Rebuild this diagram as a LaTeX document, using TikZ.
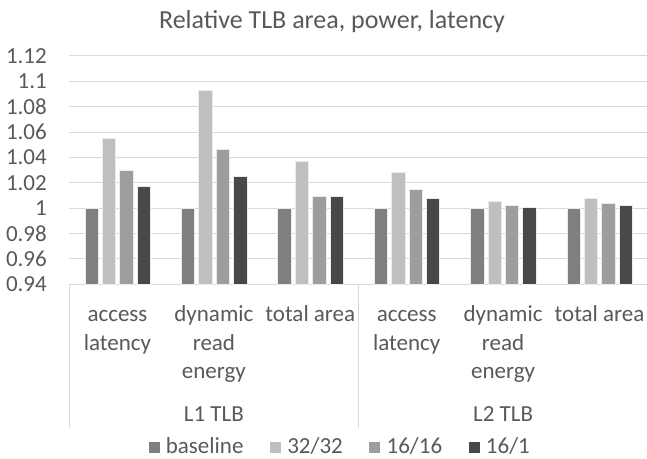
\documentclass[tikz,border=0pt]{standalone}
\usepackage{fontspec}
\setmainfont{Carlito}
\usepackage{tikz}
\usetikzlibrary{positioning}

\definecolor{txtgray}{RGB}{89,89,89}
\definecolor{gridgray}{RGB}{217,217,217}
\definecolor{barline}{RGB}{235,235,235}
\definecolor{cbase}{RGB}{127,127,127}
\definecolor{cthree}{RGB}{191,191,191}
\definecolor{csix}{RGB}{155,158,161}
\definecolor{cone}{RGB}{72,72,72}

\tikzset{
	lbl/.style={text=txtgray, inner sep=0pt, font=\fontsize{23}{28.4}\selectfont},
	titlelbl/.style={lbl, font=\fontsize{26}{30}\selectfont},
	gridline/.style={draw=gridgray, line width=1pt},
	bar/.style={draw=barline, line width=0.8pt},
	legsq/.style={inner sep=0pt, minimum size=11pt},
	legtxt/.style={lbl, text height=15pt, text depth=3pt},
}

\begin{document}
\begin{tikzpicture}[x=1pt,y=-1pt]
			\useasboundingbox (0,0) rectangle (647,458);

			% title
			\node[titlelbl, anchor=base] (title) at (332,28.3) {Relative TLB area, power, latency};

			% grid and value axis
			\foreach \t [count=\k from 0] in {0.94,0.96,0.98,1,1.02,1.04,1.06,1.08,1.1,1.12} {
				\pgfmathsetmacro{\yy}{284.3-25.37*\k}
				\draw[gridline] (69.3,\yy) -- (647,\yy);
				\node[lbl, anchor=east] (tick\k) at (47,\yy) {\t};
			}

			% category axis box
			\draw[gridline] (69.3,284.3) -- (69.3,428);
			\draw[gridline] (358.5,284.3) -- (358.5,428);

			% bars
			\foreach \g/\a/\b/\c in {0/1.055/1.030/1.017, 1/1.093/1.046/1.025, 2/1.037/1.0095/1.009,
				3/1.028/1.015/1.0075, 4/1.0055/1.0023/1.001, 5/1.008/1.0041/1.002} {
				\foreach \i/\v/\col in {0/1/cbase, 1/\a/cthree, 2/\b/csix, 3/\c/cone} {
					\pgfmathsetmacro{\xl}{85+96.4*\g+17.4*\i}
					\pgfmathsetmacro{\yt}{284.3-(\v-0.94)*1268.5}
					\filldraw[bar, fill=\col] (\xl,284.3) rectangle ({\xl+13.3},\yt);
				}
			}

			% category labels (anchored on the last line)
			\node[lbl, align=center, anchor=base] (accone) at (117.5,350) {access\\latency};
			\node[lbl, align=center, anchor=base] (dynone) at (213.9,378.4) {dynamic\\read\\energy};
			\node[lbl, align=center, anchor=base] (areaone) at (310.3,321.6) {total area};
			\node[lbl, align=center, anchor=base] (acctwo) at (406.7,350) {access\\latency};
			\node[lbl, align=center, anchor=base] (dyntwo) at (503.1,378.4) {dynamic\\read\\energy};
			\node[lbl, align=center, anchor=base] (areatwo) at (599.5,321.6) {total area};
			\node[lbl, anchor=base] (tlbone) at (213.9,421.5) {L1 TLB};
			\node[lbl, anchor=base] (tlbtwo) at (503.1,421.5) {L2 TLB};

			% legend
			\node[legsq, fill=cbase] (sqbase) at (154,447.5) {};
			\node[legtxt, right=6pt of sqbase] (txtbase) {baseline};
			\node[legsq, fill=cthree, right=26pt of txtbase] (sqthree) {};
			\node[legtxt, right=6pt of sqthree] (txtthree) {32/32};
			\node[legsq, fill=csix, right=26pt of txtthree] (sqsix) {};
			\node[legtxt, right=6pt of sqsix] (txtsix) {16/16};
			\node[legsq, fill=cone, right=26pt of txtsix] (sqone) {};
			\node[legtxt, right=6pt of sqone] (txtone) {16/1};
		\end{tikzpicture}
\end{document}
